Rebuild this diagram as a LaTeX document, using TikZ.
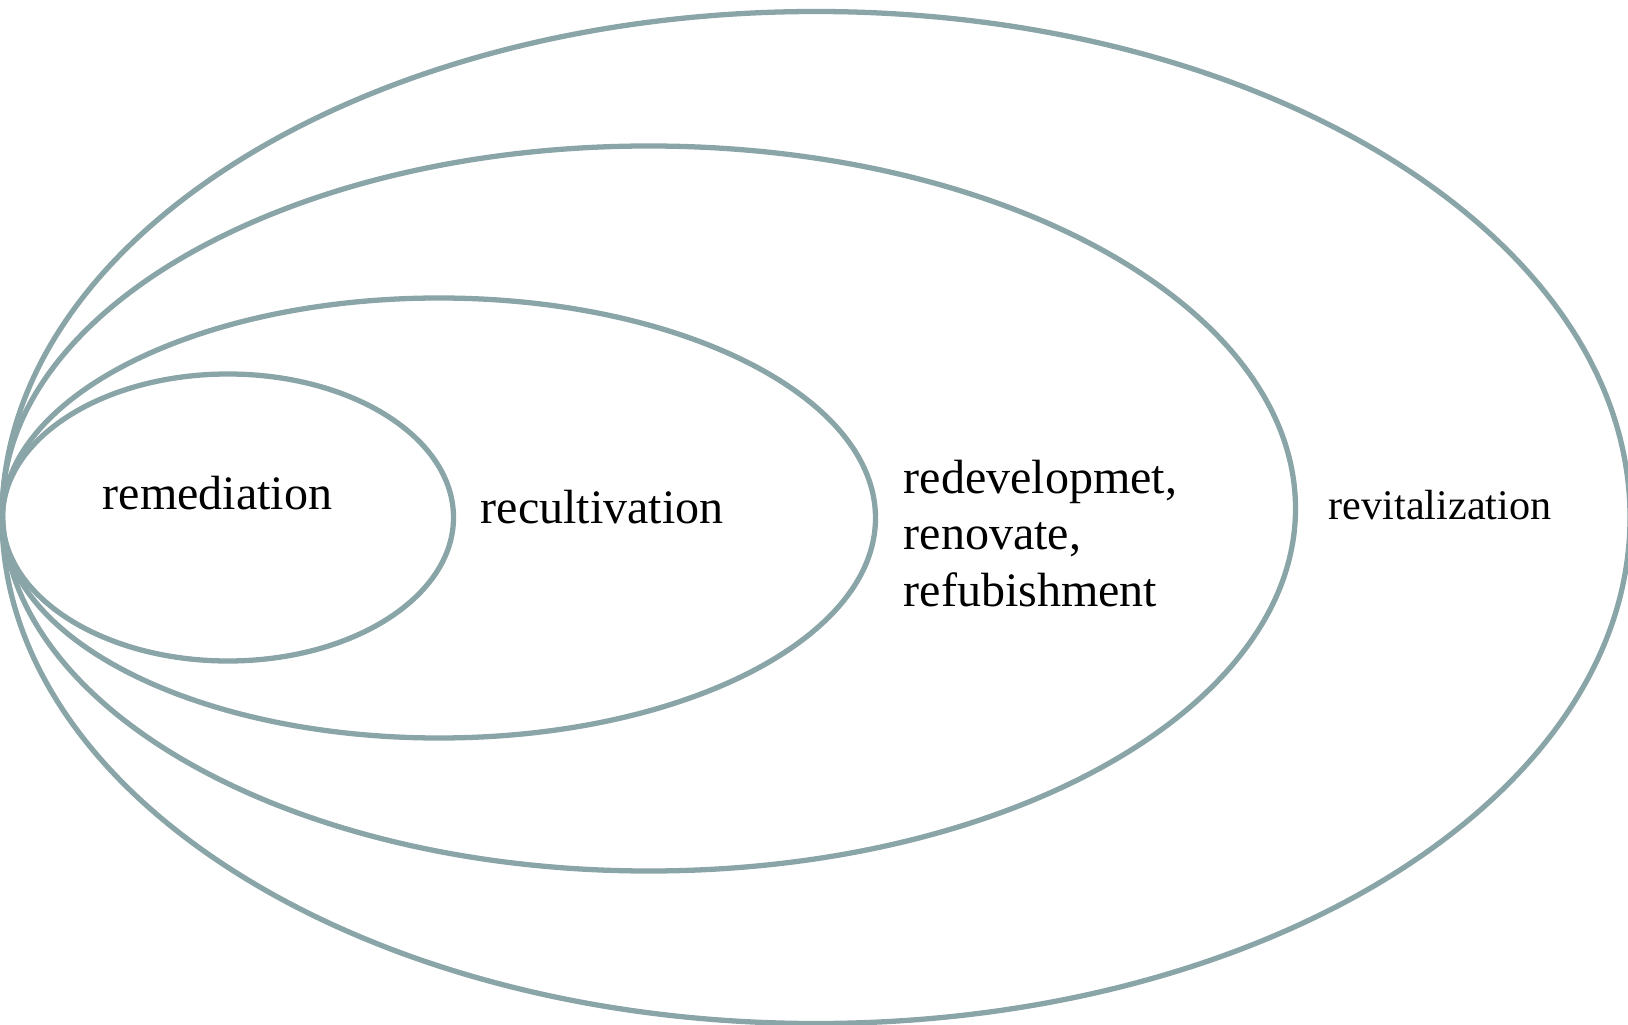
\documentclass[tikz,border=0pt]{standalone}
\usepackage{fontspec}
\setmainfont{Liberation Serif}
\usepackage{tikz}
\usetikzlibrary{positioning}
\usepackage{xcolor}
\definecolor{ring}{HTML}{8AA5A8}
\definecolor{ink}{HTML}{000000}
\tikzset{
  every node/.style={text=ink,inner sep=0pt},
  ringline/.style={draw=ring,line width=1.5pt},
  label/.style={anchor=base west,font=\fontsize{13.66pt}{15.94pt}\selectfont},
  smalllabel/.style={anchor=base west,font=\fontsize{12pt}{14.4pt}\selectfont},
}

\begin{document}
\begin{tikzpicture}[x=0.01cm,y=-0.01cm]
\useasboundingbox (0,0) rectangle (1628,1025);

% Rings, all touching at the left
\draw[ringline] (816,517.5) ellipse [x radius=814,y radius=506];
\draw[ringline] (649,508.5) ellipse [x radius=646.5,y radius=362.5];
\draw[ringline] (439,518) ellipse [x radius=436.5,y radius=220];
\draw[ringline] (228,517.5) ellipse [x radius=225.5,y radius=143.5];

% Labels
\node[label] (remed) at (102,509) {remediation};
\node[label] (recult) at (480,524) {recultivation};
\node[label,align=left] (redev) at (903,606) {redevelopmet,\\renovate,\\refubishment};
\node[smalllabel] (revit) at (1328,519) {revitalization};

\end{tikzpicture}
\end{document}
